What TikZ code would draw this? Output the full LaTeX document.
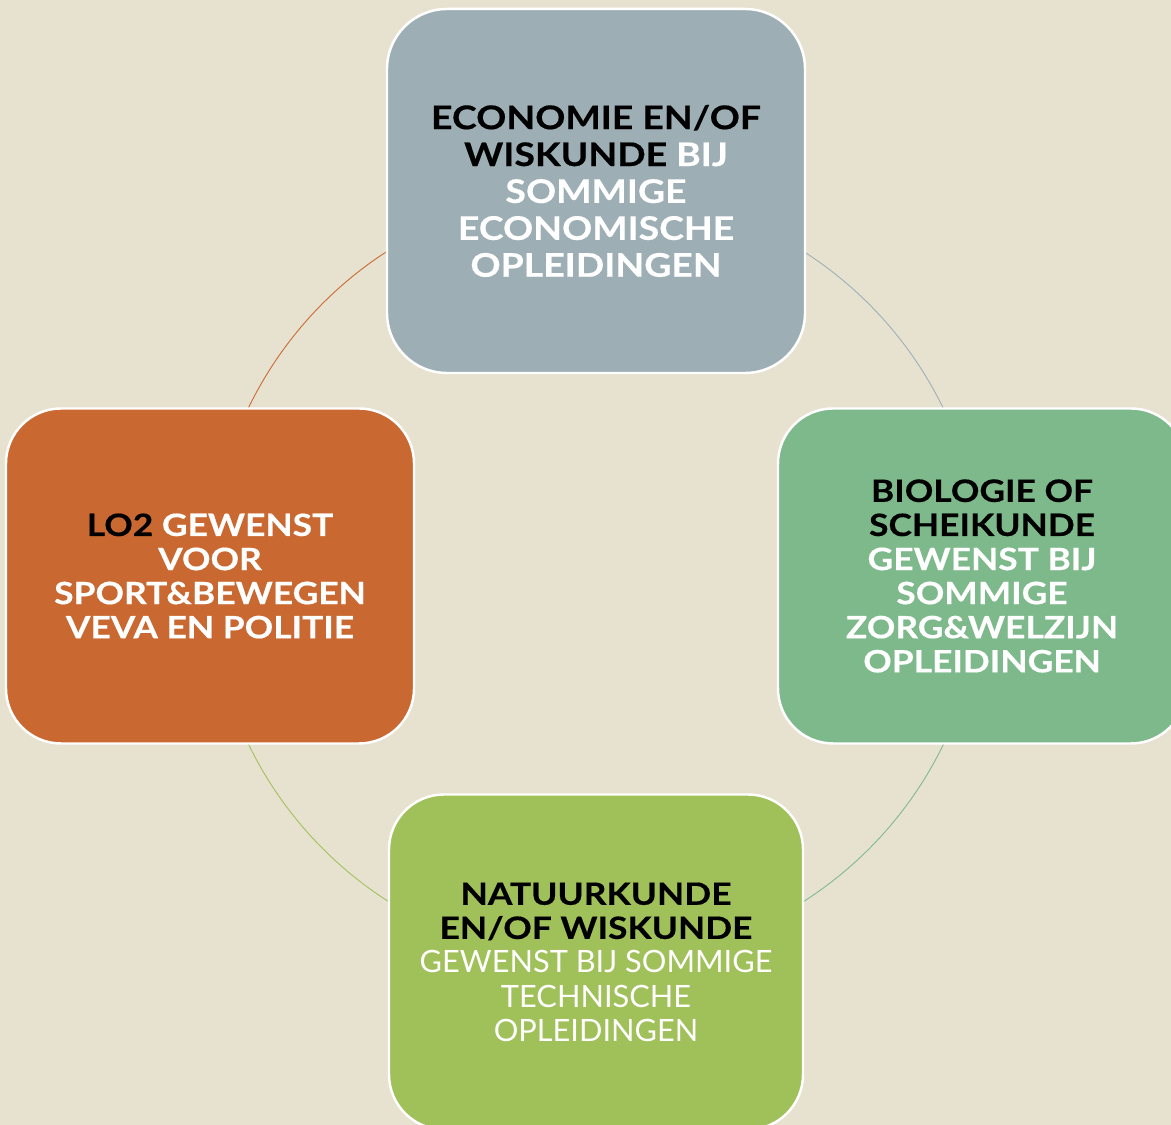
\documentclass[tikz,border=0pt]{standalone}
\usepackage{fontspec}
\setmainfont{Lato}[BoldFeatures={FakeStretch=1.15,FakeBold=0.4}]
\usepackage{xcolor}
\usetikzlibrary{positioning}

\definecolor{paper}{HTML}{E7E2D0}
\definecolor{econ}{HTML}{9DAFB5}
\definecolor{bio}{HTML}{7DB98B}
\definecolor{nat}{HTML}{A0C05A}
\definecolor{sport}{HTML}{C96830}

\pgfdeclarelayer{background}
\pgfsetlayers{background,main}

\newcommand{\wt}[1]{\textcolor{white}{#1}}

\begin{document}
\begin{tikzpicture}[
  box/.style={draw=white, line width=1.4pt, rounded corners=1.1cm,
    align=center, text=black, inner sep=0pt,
    minimum width=8.16cm, minimum height=6.7cm},
  bigtext/.style={font=\bfseries\fontsize{18.5}{21}\selectfont},
  smalltext/.style={font=\bfseries\fontsize{17.5}{19.4}\selectfont},
  ring/.style={line width=0.5pt}
]

\useasboundingbox (0,0) rectangle (23.42,22.5);

% Boxes around the ring
\node[box, bigtext, fill=econ, minimum width=8.36cm, minimum height=7.28cm,
  rounded corners=1.2cm] (econ) at (11.92,18.68)
  {ECONOMIE EN/OF\\ WISKUNDE \wt{BIJ}\\ \wt{SOMMIGE}\\ \wt{ECONOMISCHE}\\
   \wt{OPLEIDINGEN}};

\node[box, smalltext, fill=bio] (bio) at (19.64,10.98)
  {BIOLOGIE OF\\ SCHEIKUNDE\\ \wt{GEWENST BIJ}\\ \wt{SOMMIGE}\\
   \wt{ZORG\&WELZIJN}\\ \wt{OPLEIDINGEN}};

\node[box, smalltext, fill=nat, minimum width=8.28cm] (nat) at (11.92,3.26)
  {NATUURKUNDE\\ EN/OF WISKUNDE\\
   \wt{\mdseries GEWENST BIJ SOMMIGE}\\ \wt{\mdseries TECHNISCHE}\\
   \wt{\mdseries OPLEIDINGEN}};

\node[box, smalltext, fill=sport] (sport) at (4.2,10.98)
  {LO2 \wt{GEWENST}\\ \wt{VOOR}\\ \wt{SPORT\&BEWEGEN}\\ \wt{VEVA EN POLITIE}};

% Ring segments behind the boxes
\begin{pgfonlayer}{background}
\fill[paper] (0,0) rectangle (23.42,22.5);
\draw[ring, econ] (econ.center) arc[start angle=90, end angle=0, radius=7.72cm];
\draw[ring, bio] (bio.center) arc[start angle=0, end angle=-90, radius=7.72cm];
\draw[ring, nat] (nat.center) arc[start angle=270, end angle=180, radius=7.72cm];
\draw[ring, sport] (sport.center) arc[start angle=180, end angle=90, radius=7.72cm];
\end{pgfonlayer}

\end{tikzpicture}
\end{document}
